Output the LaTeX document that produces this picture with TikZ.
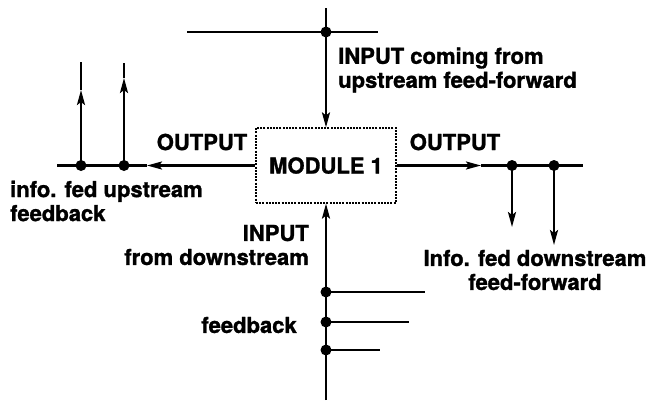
\documentclass[tikz,border=0pt]{standalone}
\usepackage{fontspec}
\setmainfont{TeX Gyre Heros}[BoldFeatures={FakeBold=1.3}]
\usetikzlibrary{arrows.meta}
\begin{document}
\begin{tikzpicture}[x=1pt,y=-1pt,
  conn/.style={line width=2.2pt},
  tip/.style={conn,-{Stealth[length=15pt,width=8pt,inset=3pt]}},
  dot/.style={circle,fill=black,inner sep=0pt,minimum size=11pt},
  lbl/.style={font=\fontsize{22}{24}\selectfont\bfseries,inner sep=0pt},
  modbox/.style={draw,line width=1.2pt,dash pattern=on 2pt off 1.2pt,minimum width=140pt,minimum height=75pt,inner sep=0pt,font=\fontsize{22}{24}\selectfont\bfseries}]
\useasboundingbox (0,0) rectangle (648,400);

\node[modbox] (m1) at (326,165.5) {MODULE 1};

% top input
\coordinate (tl) at (187,32);
\coordinate (tr) at (378,32);
\coordinate (ttop) at (326,8);
\node[dot] (d0) at (326,32) {};
\draw[conn] (tl) -- (tr);
\draw[conn] (ttop) -- (d0.center);
\draw[tip] (d0.center) -- (m1.north);

% left output
\coordinate (aL) at (147,165.5);
\coordinate (lend) at (57,165.5);
\node[dot] (d1) at (81,165.5) {};
\node[dot] (d2) at (124,165.5) {};
\coordinate (a1) at (81,90);
\coordinate (t1) at (81,62);
\coordinate (a2) at (124,78);
\coordinate (t2) at (124,63);
\draw[tip] (m1.west) -- (aL);
\draw[conn] (aL) -- (lend);
\draw[tip] (d1.center) -- (a1);
\draw[conn] (a1) -- (t1);
\draw[tip] (d2.center) -- (a2);
\draw[conn] (a2) -- (t2);

% right output
\coordinate (aR) at (481,165.5);
\coordinate (rend) at (583,165.5);
\node[dot] (d3) at (512,165.5) {};
\node[dot] (d4) at (554,165.5) {};
\coordinate (b3) at (512,227);
\coordinate (b4) at (554,245);
\draw[tip] (m1.east) -- (aR);
\draw[conn] (aR) -- (rend);
\draw[tip] (d3.center) -- (b3);
\draw[tip] (d4.center) -- (b4);

% bottom input
\coordinate (bbot) at (326,400);
\node[dot] (e1) at (326,292) {};
\node[dot] (e2) at (326,322) {};
\node[dot] (e3) at (326,350) {};
\coordinate (h1) at (425,292);
\coordinate (h2) at (409,322);
\coordinate (h3) at (380,350);
\draw[conn] (bbot) -- (e1.center);
\draw[tip] (e1.center) -- (m1.south);
\draw[conn] (e1.center) -- (h1);
\draw[conn] (e2.center) -- (h2);
\draw[conn] (e3.center) -- (h3);

% labels
\node[lbl,anchor=west,align=left] (lt) at (338,70) {INPUT coming from\\upstream feed-forward};
\node[lbl] (lo1) at (202,142) {OUTPUT};
\node[lbl] (lo2) at (455,142) {OUTPUT};
\node[lbl,anchor=west,align=left] (lu) at (10,201) {info. fed upstream\\feedback};
\node[lbl,align=center] (ld) at (535,270) {Info. fed downstream\\feed-forward};
\node[lbl,anchor=east,align=right] (lin) at (309,245) {INPUT\\from downstream};
\node[lbl,anchor=east] (lfb) at (297,325) {feedback};
\end{tikzpicture}
\end{document}
